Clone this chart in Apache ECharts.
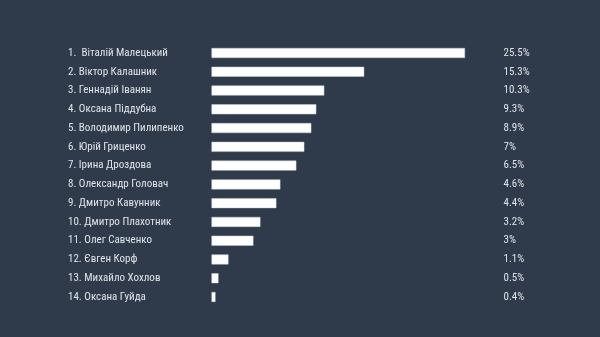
<!DOCTYPE html>
<html><head><meta charset="utf-8">
<script src="https://cdn.jsdelivr.net/npm/echarts@6/dist/echarts.min.js"></script>
<style>html,body{margin:0;padding:0;background:#2f3a4a;}#c{width:600px;height:337px;}</style>
</head><body><div id="c"></div>
<script>
const names = ["1.  Віталій Малецький","2. Віктор Калашник","3. Геннадій Іванян","4. Оксана Піддубна","5. Володимир Пилипенко","6. Юрій Гриценко","7. Ірина Дроздова","8. Олександр Головач","9. Дмитро Кавунник","10. Дмитро Плахотник","11. Олег Савченко","12. Євген Корф","13. Михайло Хохлов","14. Оксана Гуйда"];
// bar lengths (they are not strictly proportional to the printed labels)
const barValues = [25.4,15.3,11.3,10.5,10.0,9.3,8.5,6.9,6.5,4.9,4.2,1.7,0.7,0.4];
const valueLabels = ["25.5%","15.3%","10.3%","9.3%","8.9%","7%","6.5%","4.6%","4.4%","3.2%","3%","1.1%","0.5%","0.4%"];
const chart = echarts.init(document.getElementById('c'));
const lab = {color:'#e0e4e9',fontSize:11,fontFamily:'Roboto',fontStyle:'condensed',padding:[4,0,0,0]};
chart.setOption({
  backgroundColor:'#2f3a4a',
  animation:false,
  grid:{left:211.5,right:135,top:43.6,bottom:30.6},
  xAxis:{type:'value',min:0,max:25.4,show:false},
  yAxis:[
    {type:'category',data:names,inverse:true,axisLine:{show:false},axisTick:{show:false},splitLine:{show:false},
     axisLabel:Object.assign({align:'left',margin:143.5},lab)},
    {type:'category',data:valueLabels,inverse:true,position:'right',axisLine:{show:false},axisTick:{show:false},splitLine:{show:false},
     axisLabel:Object.assign({align:'left',margin:38.5},lab)}
  ],
  series:[{type:'bar',data:barValues,barWidth:10,itemStyle:{color:'#ffffff',borderColor:'#c9ced6',borderWidth:0.5}}]
});
</script></body></html>
